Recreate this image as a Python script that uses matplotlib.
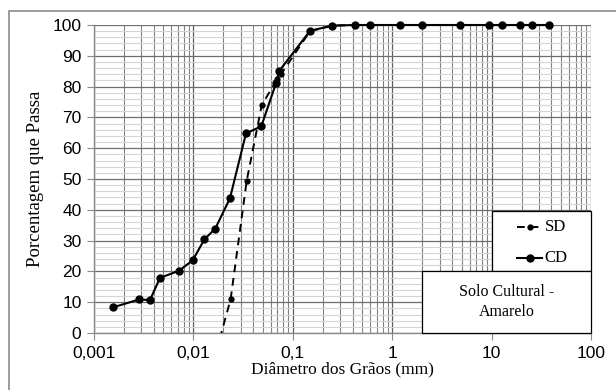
import matplotlib
matplotlib.use("Agg")
import matplotlib.pyplot as plt
from matplotlib.patches import Rectangle
from matplotlib.lines import Line2D
import numpy as np

# Data
cd_diam = [38.1, 25.4, 19.1, 12.7, 9.5, 4.8, 2.0, 1.19, 0.6, 0.42, 0.25, 0.149,
           0.0731, 0.0678, 0.0482, 0.0338, 0.0233, 0.0166, 0.0129, 0.00984,
           0.00716, 0.00461, 0.00366, 0.00286, 0.00154]
cd_pass = [100, 100, 100, 100, 100, 100, 100, 100, 100, 100, 99.8, 98.1,
           85.1, 81.1, 67.1, 64.8, 43.7, 33.9, 30.4, 23.6,
           20.2, 17.9, 10.7, 10.9, 8.3]

sd_diam = [38.1, 25.4, 19.1, 12.7, 9.5, 4.8, 2.0, 1.19, 0.6, 0.42, 0.25, 0.149,
           0.0760, 0.0700, 0.0487, 0.0344, 0.0237, 0.0191]
sd_pass = [100, 100, 100, 100, 100, 100, 100, 100, 100, 100, 99.8, 98.0,
           84.0, 82.5, 74.0, 49.5, 11.0, 0]

x_ticks = [0.001, 0.01, 0.1, 1, 10, 100]
x_ticklabels = ["0,001", "0,01", "0,1", "1", "10", "100"]
y_ticks = list(range(0, 101, 10))

serif = ["Liberation Serif", "DejaVu Serif"]
sans = ["Liberation Sans", "DejaVu Sans"]

fig = plt.figure(figsize=(6.16, 3.9), dpi=100)
fig.patch.set_facecolor("white")
# figure frame
fig.add_artist(Rectangle((9/616, -0.05), 1.2, 1 - 11/390 + 0.05, transform=fig.transFigure,
                         fill=False, edgecolor="#8c8c8c", linewidth=1.2))

ax = fig.add_axes([94/616, 1 - 333/390, (591 - 94)/616, (333 - 25)/390])
ax.set_xscale("log")
ax.set_xlim(0.001, 100)
ax.set_ylim(0, 100)

# grid
ax.set_yticks(y_ticks)
ax.set_yticks(np.arange(0, 101, 2), minor=True)
ax.set_xticks(x_ticks)
ax.set_xticklabels(x_ticklabels)
ax.grid(True, which="major", axis="y", color="#6e6e6e", linewidth=0.9)
ax.grid(True, which="minor", axis="y", color="#d4d4d4", linewidth=0.8)
ax.grid(True, which="major", axis="x", color="#5e5e5e", linewidth=0.9)
ax.grid(True, which="minor", axis="x", color="#808080", linewidth=0.8)
ax.set_axisbelow(True)

for s in ["top", "right"]:
    ax.spines[s].set_visible(False)
for s in ["left", "bottom"]:
    ax.spines[s].set_color("#8a8a8a")
    ax.spines[s].set_linewidth(1.0)

ax.tick_params(axis="both", which="major", direction="out", length=5, color="#8a8a8a",
               labelsize=12.5, pad=4)
ax.tick_params(axis="y", which="minor", length=0)
ax.tick_params(axis="x", which="minor", direction="in", length=3, color="#8a8a8a")
for lab in ax.get_xticklabels() + ax.get_yticklabels():
    lab.set_family(sans)

ax.plot(sd_diam, sd_pass, linestyle=(0, (4, 3)), color="black", linewidth=1.4,
        marker="o", markersize=3.5, markevery=list(range(len(sd_diam) - 1)),
        clip_on=False, zorder=3)
ax.plot(cd_diam, cd_pass, linestyle="-", color="black", linewidth=1.5,
        marker="o", markersize=5, clip_on=False, zorder=4)

ax.set_xlabel("Diâmetro dos Grãos (mm)", family=serif, fontsize=12.5, labelpad=1)
ax.set_ylabel("Porcentagem que Passa", family=serif, fontsize=13.5, labelpad=6)

# legend box
tr = ax.transAxes
def fx(px):
    return (px - 94) / (591 - 94)
def fy(py):
    return (333 - py) / (333 - 25)

ax.add_patch(Rectangle((fx(492), fy(271)), fx(591) - fx(492), fy(211) - fy(271),
                       transform=tr, facecolor="white", edgecolor="black",
                       linewidth=0.9, zorder=5, clip_on=False))
ax.add_line(Line2D([fx(517), fx(542)], [fy(227), fy(227)], transform=tr, color="black",
                   linestyle=(0, (4, 3)), linewidth=1.4, marker=None, zorder=6))
ax.add_line(Line2D([fx(529.5)], [fy(227)], transform=tr, color="black", marker="o",
                   markersize=3.5, zorder=6))
ax.text(fx(545), fy(227), "SD", transform=tr, family=serif, fontsize=12,
        va="center", ha="left", zorder=6)
ax.add_line(Line2D([fx(517), fx(542)], [fy(258), fy(258)], transform=tr, color="black",
                   linewidth=1.5, zorder=6))
ax.add_line(Line2D([fx(529.5)], [fy(258)], transform=tr, color="black", marker="o",
                   markersize=5, zorder=6))
ax.text(fx(544), fy(258), "CD", transform=tr, family=serif, fontsize=12,
        va="center", ha="left", zorder=6)

# text box
ax.add_patch(Rectangle((fx(422), fy(333)), fx(591) - fx(422), fy(271) - fy(333),
                       transform=tr, facecolor="white", edgecolor="black",
                       linewidth=0.9, zorder=5, clip_on=False))
ax.text(fx(506.5), fy(302), "Solo Cultural -\nAmarelo", transform=tr, family=serif,
        fontsize=11.5, ha="center", va="center", linespacing=1.3, zorder=6)

fig.savefig("out.png", dpi=100)
